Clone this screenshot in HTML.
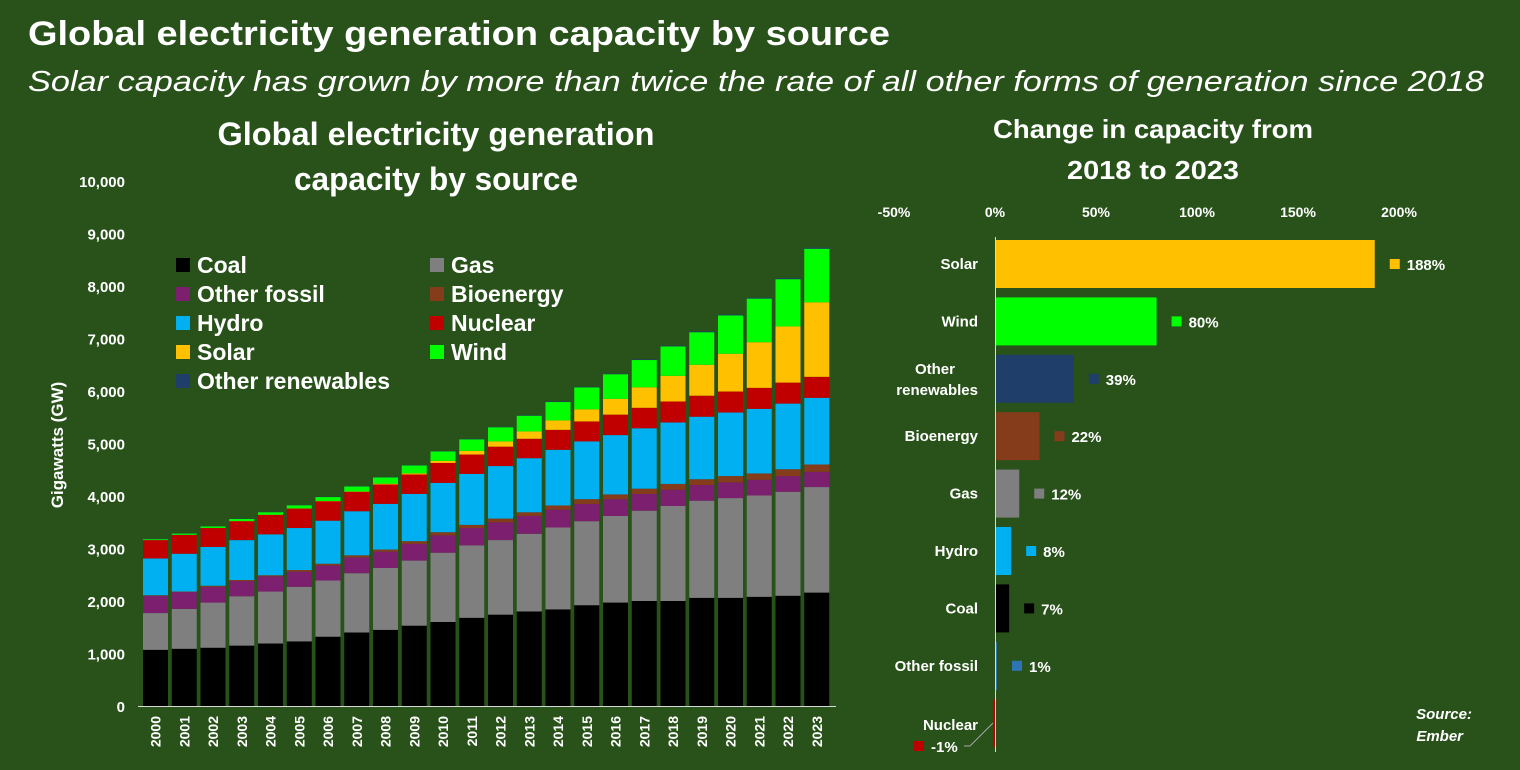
<!DOCTYPE html>
<html><head><meta charset="utf-8"><style>
body{margin:0;background:#29521b;}
svg{display:block;font-family:"Liberation Sans",sans-serif;}
</style></head><body>
<svg id="s" width="1520" height="770">
<rect width="1520" height="770" fill="#29521b"/>
<text x="28" y="45" fill="#fff" font-size="34" font-weight="bold" textLength="862" lengthAdjust="spacingAndGlyphs">Global electricity generation capacity by source</text>
<text x="28" y="91" fill="#fff" font-size="29" font-style="italic" textLength="1456" lengthAdjust="spacingAndGlyphs">Solar capacity has grown by more than twice the rate of all other forms of generation since 2018</text>
<text x="436" y="145" fill="#fff" font-size="32" font-weight="bold" text-anchor="middle" textLength="437" lengthAdjust="spacingAndGlyphs">Global electricity generation</text>
<text x="436" y="190" fill="#fff" font-size="32" font-weight="bold" text-anchor="middle" textLength="284" lengthAdjust="spacingAndGlyphs">capacity by source</text>
<text x="1153" y="138" fill="#fff" font-size="26" font-weight="bold" text-anchor="middle" textLength="320" lengthAdjust="spacingAndGlyphs">Change in capacity from</text>
<text x="1153" y="179" fill="#fff" font-size="26" font-weight="bold" text-anchor="middle" textLength="172" lengthAdjust="spacingAndGlyphs">2018 to 2023</text>
<text x="63" y="445" fill="#fff" font-size="17" font-weight="bold" text-anchor="middle" transform="rotate(-90 63 445)">Gigawatts (GW)</text>
<g id="left"></g>
<g id="legend"></g>
<g id="right"></g>
<text x="1472" y="719" fill="#fff" font-size="15" font-weight="bold" font-style="italic" text-anchor="end">Source:</text>
<text x="1463" y="741" fill="#fff" font-size="15" font-weight="bold" font-style="italic" text-anchor="end">Ember</text>
</svg>
<script>
const years=["2000","2001","2002","2003","2004","2005","2006","2007","2008","2009","2010","2011","2012","2013","2014","2015","2016","2017","2018","2019","2020","2021","2022","2023"];
const coal=[1070,1090,1110,1150,1190,1230,1320,1400,1450,1530,1600,1680,1740,1800,1840,1920,1970,2000,2000,2060,2060,2080,2100,2160];
const gas=[700,760,860,940,990,1040,1070,1130,1180,1240,1320,1380,1420,1480,1560,1600,1650,1720,1810,1850,1900,1930,1980,2010];
const otherFossil=[330,320,300,290,290,290,290,300,310,320,330,330,340,340,340,330,320,320,310,300,300,300,300,290];
const bioenergy=[10,10,20,20,20,30,30,40,40,50,60,60,70,70,80,90,90,100,110,110,120,120,130,140];
const hydro=[700,720,740,760,780,800,820,840,870,900,940,970,1000,1030,1060,1100,1130,1150,1170,1190,1210,1230,1250,1270];
const nuclear=[350,360,360,360,370,370,370,370,370,370,380,370,370,370,380,380,390,390,400,400,400,400,400,400];
const solar=[1,1,2,3,4,5,6,8,15,22,40,70,100,140,180,230,300,390,490,590,720,870,1070,1420];
const wind=[17,24,31,40,48,59,74,94,120,150,180,220,270,300,350,420,470,520,560,620,730,830,900,1020];
const otherRenew=[5,5,5,5,6,6,6,7,7,8,8,9,9,10,10,11,12,13,14,15,16,17,18,20];
const yTicks=[0,1000,2000,3000,4000,5000,6000,7000,8000,9000,10000];
const changeCats=["Solar","Wind","Other renewables","Bioenergy","Gas","Hydro","Coal","Other fossil","Nuclear"];
const changeVals=[188,80,39,22,12,8,7,1,-1];
const xTicks=[-50,0,50,100,150,200];

const NS="http://www.w3.org/2000/svg";
function mk(p,t,a,txt){const e=document.createElementNS(NS,t);for(const k in a)e.setAttribute(k,a[k]);if(txt!=null)e.textContent=txt;p.appendChild(e);return e;}
const L=document.getElementById('left');
const y=v=>706-v*0.0525;
const x0=143,pitch=28.75,bw=25;
const bx=i=>x0+i*pitch;
yTicks.forEach(t=>{
 const e=mk(L,'text',{x:125,y:y(t)+6,fill:'#fff','font-size':15,'font-weight':'bold','text-anchor':'end'},t.toLocaleString('en-US'));
 
 
});
const series=[["Coal",coal,"#000000"],["Gas",gas,"#7f7f7f"],["Other fossil",otherFossil,"#7b1f6e"],["Bioenergy",bioenergy,"#843c1a"],["Hydro",hydro,"#00b0f0"],["Nuclear",nuclear,"#c00000"],["Solar",solar,"#ffc000"],["Wind",wind,"#00ff00"],["Other renewables",otherRenew,"#1f3f6a"]];
years.forEach((yr,i)=>{
 let cum=0;
 series.forEach(s=>{
  const v=s[1][i];
  const r=mk(L,'rect',{x:bx(i),y:y(cum+v),width:bw,height:y(cum)-y(cum+v),fill:s[2]});
  
  
  cum+=v;
 });
 const t=mk(L,'text',{x:0,y:0,fill:'#fff','font-size':14,'font-weight':'bold','text-anchor':'end',transform:`translate(${bx(i)+bw/2+5},716) rotate(-90)`},yr);
 
 
});
const ax=mk(L,'line',{x1:138,y1:706.5,x2:836,y2:706.5,stroke:'#d9d9d9','stroke-width':1});



const G=document.getElementById('legend');
const legOrder=[["Coal","#000000"],["Gas","#7f7f7f"],["Other fossil","#7b1f6e"],["Bioenergy","#843c1a"],["Hydro","#00b0f0"],["Nuclear","#c00000"],["Solar","#ffc000"],["Wind","#00ff00"],["Other renewables","#1f3f6a"]];
legOrder.forEach((l,i)=>{
 const cx=i%2?430:176, cy=265+Math.floor(i/2)*29;
 const g=mk(G,'g',{});
 
 
 mk(g,'rect',{x:cx,y:cy-7,width:14,height:14,fill:l[1]});
 mk(g,'text',{x:cx+21,y:cy+8,fill:'#fff','font-size':23,'font-weight':'bold'},l[0]);
});

const R=document.getElementById('right');
const xs=v=>995+v*2.02;
xTicks.forEach(t=>{
 const e=mk(R,'text',{x:xs(t),y:217,fill:'#fff','font-size':14,'font-weight':'bold','text-anchor':'middle'},t+'%');
 
 
});
const cc={"Solar":"#ffc000","Wind":"#00ff00","Other renewables":"#1f3f6a","Bioenergy":"#843c1a","Gas":"#7f7f7f","Hydro":"#00b0f0","Coal":"#000000","Other fossil":"#2e75b6","Nuclear":"#c00000"};
changeCats.forEach((c,i)=>{
 const cy=264+i*57.4, v=changeVals[i];
 const b=mk(R,'rect',{x:Math.min(xs(0),xs(v)),y:cy-24,width:Math.max(1.5,Math.abs(xs(v)-xs(0))),height:48,fill:cc[c]});
 
 
 let lab;
 if(c==="Other renewables"){
  lab=mk(R,'text',{x:978,y:cy-5,fill:'#fff','font-size':15,'font-weight':'bold','text-anchor':'end'});
  mk(lab,'tspan',{x:955,dy:0},'Other');mk(lab,'tspan',{x:978,dy:21},'renewables');
 } else if(c==="Nuclear"){
  lab=mk(R,'text',{x:978,y:cy+7,fill:'#fff','font-size':15,'font-weight':'bold','text-anchor':'end'},c);
 } else {
  lab=mk(R,'text',{x:978,y:cy+5,fill:'#fff','font-size':15,'font-weight':'bold','text-anchor':'end'},c);
 }
 
 
 const g=mk(R,'g',{});
 
 
 if(v>=0){
  const ex=xs(v)+15;
  mk(g,'rect',{x:ex,y:cy-5,width:10,height:10,fill:cc[c]});
  mk(g,'text',{x:ex+17,y:cy+6,fill:'#fff','font-size':15,'font-weight':'bold'},v+'%');
 } else {
  mk(g,'rect',{x:914,y:741,width:10,height:10,fill:cc[c]});
  mk(g,'text',{x:931,y:752,fill:'#fff','font-size':15,'font-weight':'bold'},v+'%');
  mk(g,'polyline',{points:`964,746 970,746 993,723`,fill:'none',stroke:'#a6a6a6','stroke-width':1});
 }
});
const va=mk(R,'line',{x1:995.5,y1:237,x2:995.5,y2:752,stroke:'#d9d9d9','stroke-width':1});


</script>
</body></html>
